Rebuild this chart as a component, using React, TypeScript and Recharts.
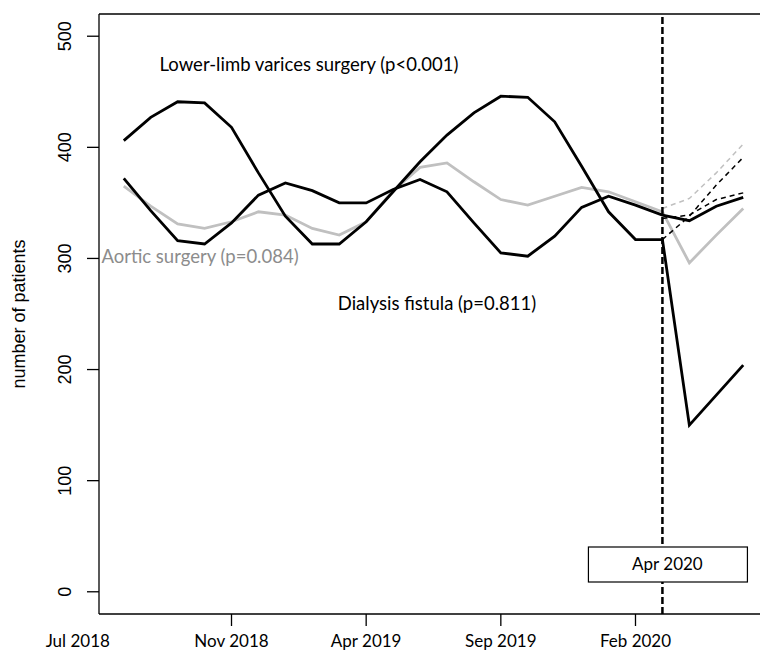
import { LineChart, Line, XAxis, YAxis, ReferenceLine } from "recharts";

// monthly counts, Jul 2018 - Jun 2020
const MONTHS = [
  "Jul 2018", "Aug 2018", "Sep 2018", "Oct 2018", "Nov 2018", "Dec 2018",
  "Jan 2019", "Feb 2019", "Mar 2019", "Apr 2019", "May 2019", "Jun 2019",
  "Jul 2019", "Aug 2019", "Sep 2019", "Oct 2019", "Nov 2019", "Dec 2019",
  "Jan 2020", "Feb 2020", "Mar 2020", "Apr 2020", "May 2020", "Jun 2020",
];

const VARICES = [406, 427, 441, 440, 418, 377, 338, 313, 313, 333, 360, 387, 411, 431, 446, 445, 423, 383, 342, 317, 317, 150, 177, 204];
const AORTIC = [365, 347, 331, 327, 333, 342, 339, 327, 321, 333, 361, 382, 386, 369, 353, 348, 356, 364, 360, 351, 342, 296, 321, 345];
const DIALYSIS = [372, 343, 316, 313, 332, 357, 368, 361, 350, 350, 362, 371, 360, 332, 305, 302, 320, 346, 356, 348, 339, 334, 347, 355];

// expected counts without the pandemic, from Mar 2020
const CF_START = 20;
const VARICES_CF = [317, 338, 366, 391];
const AORTIC_CF = [345, 354, 377, 403];
const DIALYSIS_CF = [336, 339, 353, 359];

const X_TICKS = [0, 4, 9, 14, 19];
const Y_TICKS = [0, 100, 200, 300, 400, 500];
const BREAK_IDX = 20;
const BREAK_LABEL = "Apr 2020";

const data = MONTHS.map((m, i) => ({
  idx: i,
  month: m,
  varices: VARICES[i],
  aortic: AORTIC[i],
  dialysis: DIALYSIS[i],
  varicesCf: i >= CF_START ? VARICES_CF[i - CF_START] : null,
  aorticCf: i >= CF_START ? AORTIC_CF[i - CF_START] : null,
  dialysisCf: i >= CF_START ? DIALYSIS_CF[i - CF_START] : null,
}));

const LABEL_FONT = "Lato, 'Open Sans', sans-serif";
const AXIS_FONT = "'Liberation Sans', Arial, sans-serif";

function XTick(props: any) {
  const { x, y, payload } = props;
  const first = payload.value === 0;
  return (
    <g>
      {!first && <line x1={x} x2={x} y1={y - 12} y2={y} stroke="#000" strokeWidth={1.3} />}
      <text
        x={first ? x - 46 : x}
        y={y + 21}
        textAnchor="middle"
        fontFamily={LABEL_FONT}
        fontSize={17}
        fill="#000"
      >
        {MONTHS[payload.value]}
      </text>
    </g>
  );
}

function YTick(props: any) {
  const { x, y, payload } = props;
  return (
    <g>
      <line x1={x} x2={x + 12} y1={y} y2={y} stroke="#000" strokeWidth={1.3} />
      <text
        x={x - 16}
        y={y}
        transform={`rotate(-90, ${x - 16}, ${y})`}
        textAnchor="middle"
        fontFamily={AXIS_FONT}
        fontSize={18}
        fill="#000"
      >
        {payload.value}
      </text>
    </g>
  );
}

function BreakBox(props: any) {
  const { viewBox } = props;
  const cx = viewBox.x + 5;
  return (
    <g>
      <rect x={cx - 79} y={547} width={159} height={35} fill="#fff" stroke="#000" strokeWidth={1.2} />
      <text x={cx} y={570} textAnchor="middle" fontFamily={LABEL_FONT} fontSize={17} fill="#000">
        {BREAK_LABEL}
      </text>
    </g>
  );
}

export default function App() {
  return (
    <div
      style={{
        position: "fixed",
        left: 0,
        top: 0,
        width: 760,
        height: 650,
        overflow: "hidden",
        background: "#fff",
      }}
    >
      <LineChart
        width={780}
        height={650}
        data={data}
        margin={{ top: 14, right: 12, bottom: 0, left: 0 }}
      >
        <XAxis
          type="number"
          dataKey="idx"
          domain={[-0.92, 23.92]}
          ticks={X_TICKS}
          interval={0}
          allowDataOverflow
          height={36}
          tickSize={12}
          tickMargin={0}
          tickLine={false}
          axisLine={{ stroke: "#000", strokeWidth: 1.3 }}
          tick={XTick}
        />
        <YAxis
          type="number"
          domain={[-20, 520]}
          ticks={Y_TICKS}
          interval={0}
          allowDataOverflow
          width={99}
          tickSize={12}
          tickMargin={0}
          tickLine={false}
          axisLine={{ stroke: "#000", strokeWidth: 1.3 }}
          tick={YTick}
        />
        <ReferenceLine y={520} stroke="#000" strokeWidth={1.3} />

        <Line dataKey="aortic" stroke="#c0c0c0" strokeWidth={2.8} dot={false} activeDot={false} isAnimationActive={false} />
        <Line dataKey="dialysis" stroke="#000" strokeWidth={2.8} dot={false} activeDot={false} isAnimationActive={false} />
        <Line dataKey="varices" stroke="#000" strokeWidth={2.8} dot={false} activeDot={false} isAnimationActive={false} />

        <Line dataKey="aorticCf" stroke="#c0c0c0" strokeWidth={1.5} strokeDasharray="5 4" dot={false} activeDot={false} isAnimationActive={false} />
        <Line dataKey="dialysisCf" stroke="#000" strokeWidth={1.5} strokeDasharray="5 4" dot={false} activeDot={false} isAnimationActive={false} />
        <Line dataKey="varicesCf" stroke="#000" strokeWidth={1.5} strokeDasharray="5 4" dot={false} activeDot={false} isAnimationActive={false} />

        <ReferenceLine
          x={BREAK_IDX}
          stroke="#000"
          strokeWidth={2.5}
          strokeDasharray="7 3"
          label={BreakBox}
        />

        <text x={309} y={71} textAnchor="middle" fontFamily={LABEL_FONT} fontSize={18.5} fill="#000">
          Lower-limb varices surgery (p&lt;0.001)
        </text>
        <text x={200} y={263} textAnchor="middle" fontFamily={LABEL_FONT} fontSize={18.5} fill="#8c8c8c">
          Aortic surgery (p=0.084)
        </text>
        <text x={437} y={310} textAnchor="middle" fontFamily={LABEL_FONT} fontSize={18.5} fill="#000">
          Dialysis fistula (p=0.811)
        </text>
        <text
          x={25}
          y={314}
          transform="rotate(-90, 25, 314)"
          textAnchor="middle"
          fontFamily={AXIS_FONT}
          fontSize={18}
          fill="#000"
        >
          number of patients
        </text>
      </LineChart>
    </div>
  );
}
